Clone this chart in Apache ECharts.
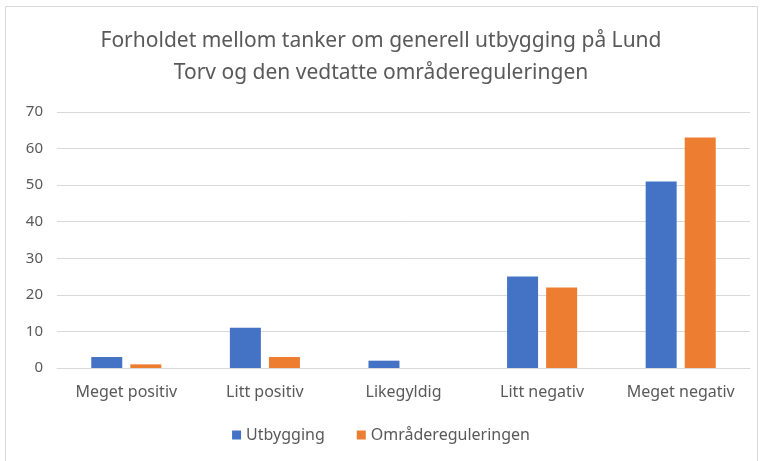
<!DOCTYPE html>
<html>
<head>
<meta charset="utf-8">
<script src="https://cdn.jsdelivr.net/npm/echarts@6/dist/echarts.min.js"></script>
<style>
  html, body { margin: 0; padding: 0; background: #ffffff; }
  #main { width: 762px; height: 461px; }
</style>
</head>
<body>
<div id="main"></div>
<script>
// data
const categories = ['Meget positiv', 'Litt positiv', 'Likegyldig', 'Litt negativ', 'Meget negativ'];
const utbygging = [3, 11, 2, 25, 51];
const omraderegulering = [1, 3, 0, 22, 63];
const seriesNames = ['Utbygging', 'Områdereguleringen'];

const chart = echarts.init(document.getElementById('main'));
const font = '"Noto Sans", "Open Sans", sans-serif';

const options = {
  animation: false,
  textStyle: { fontFamily: font },
  title: {
    text: 'Forholdet mellom tanker om generell utbygging på Lund\nTorv og den vedtatte områdereguleringen',
    left: 'center',
    top: 20,
    textStyle: {
      fontFamily: font,
      fontSize: 21,
      fontWeight: 'normal',
      color: '#595959',
      lineHeight: 32,
    },
  },
  graphic: [
    {
      type: 'rect',
      shape: { x: 5.5, y: 6.5, width: 752, height: 470 },
      style: { fill: 'none', stroke: '#d9d9d9', lineWidth: 1 },
      silent: true,
    },
  ],
  legend: {
    data: seriesNames,
    bottom: 13,
    left: 'center',
    itemWidth: 9,
    itemHeight: 9,
    itemGap: 32,
    icon: 'rect',
    textStyle: { fontFamily: font, fontSize: 16, color: '#595959' },
  },
  grid: {
    left: 57,
    right: 12,
    top: 112,
    bottom: 93,
  },
  xAxis: {
    type: 'category',
    data: categories,
    axisTick: { show: false },
    axisLine: { lineStyle: { color: '#d9d9d9', width: 1 } },
    axisLabel: { interval: 0, color: '#595959', fontSize: 16, margin: 16, fontFamily: font },
  },
  yAxis: {
    type: 'value',
    min: 0,
    max: 70,
    interval: 10,
    axisLine: { show: false },
    axisTick: { show: false },
    splitLine: { lineStyle: { color: '#d9d9d9', width: 1 } },
    axisLabel: { color: '#595959', fontSize: 15, margin: 14, fontFamily: font },
  },
  series: [
    {
      name: seriesNames[0],
      type: 'bar',
      data: utbygging,
      barWidth: 31,
      barGap: '26%',
      itemStyle: { color: '#4472C4' },
    },
    {
      name: seriesNames[1],
      type: 'bar',
      data: omraderegulering,
      barWidth: 31,
      barGap: '26%',
      itemStyle: { color: '#ED7D31' },
    },
  ],
};
chart.setOption(options);
</script>
</body>
</html>
